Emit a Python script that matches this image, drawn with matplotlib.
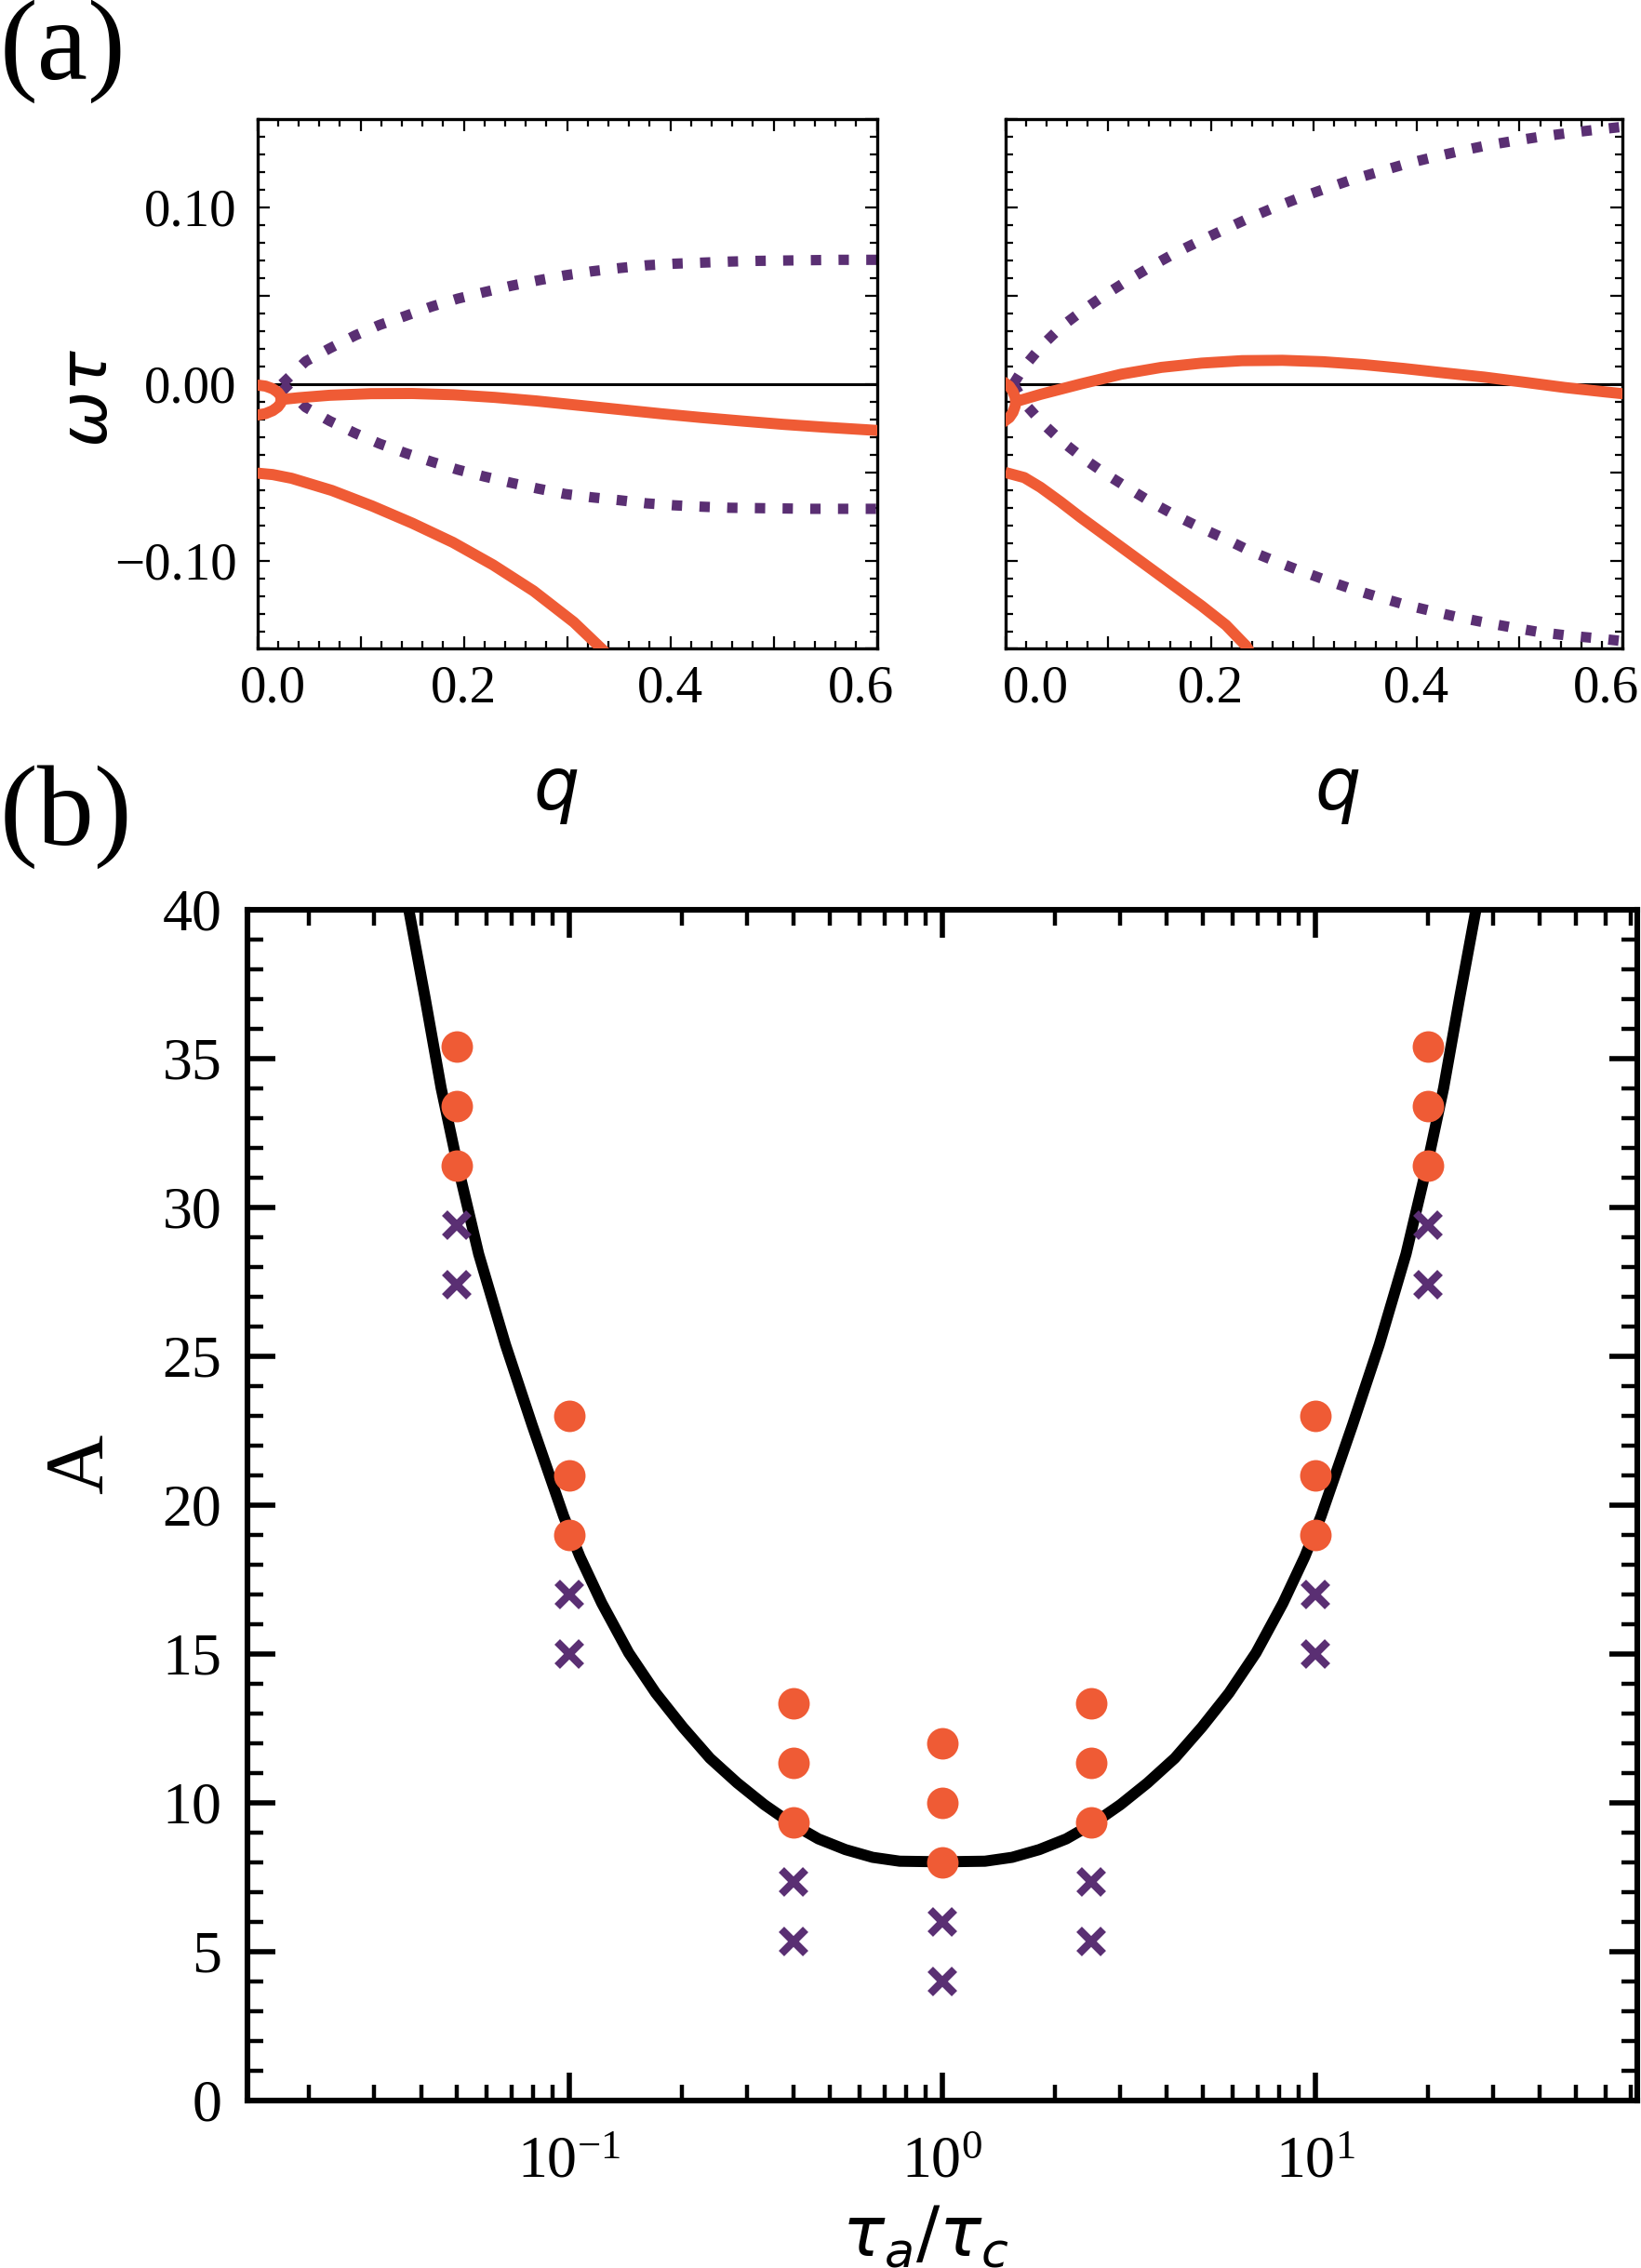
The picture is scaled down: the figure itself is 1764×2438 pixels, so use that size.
import matplotlib
matplotlib.use("Agg")
import matplotlib.pyplot as plt
from matplotlib.ticker import FixedLocator, MultipleLocator, FuncFormatter, LogLocator, NullFormatter

plt.rcParams['font.family'] = ['Liberation Serif', 'DejaVu Serif']
plt.rcParams['mathtext.fontset'] = 'dejavusans'

ORANGE = '#ef5b35'
PURPLE = '#5a2f73'

# ---------------- panel (a) data ----------------
# left panel
la_loop_q = [0.0, 0.008, 0.015, 0.020, 0.0228, 0.0233, 0.0228, 0.020, 0.015, 0.008, 0.0]
la_loop_w = [-0.0006, -0.0012, -0.0027, -0.0047, -0.0068, -0.0088, -0.0108, -0.0130, -0.0151, -0.0168, -0.0176]
la_up_q = [0.0233, 0.04, 0.07, 0.11, 0.15, 0.19, 0.23, 0.27, 0.31, 0.35, 0.39, 0.43, 0.47, 0.51, 0.55, 0.60]
la_up_w = [-0.0088, -0.0078, -0.0064, -0.0055, -0.0054, -0.0061, -0.0076, -0.0096, -0.0120, -0.0144, -0.0168, -0.0190, -0.0210, -0.0229, -0.0245, -0.0263]
la_low_q = [0.0, 0.015, 0.0332, 0.0723, 0.1113, 0.1504, 0.1895, 0.2285, 0.2676, 0.3066, 0.334, 0.338]
la_low_w = [-0.0505, -0.0513, -0.0534, -0.0603, -0.0691, -0.0789, -0.0897, -0.1025, -0.1172, -0.1349, -0.1502, -0.1525]
la_dot_q = [0.024, 0.0469, 0.0703, 0.0949, 0.1184, 0.1434, 0.1688, 0.1941, 0.2199, 0.2461, 0.2723,
            0.2980, 0.3242, 0.3504, 0.3770, 0.4035, 0.4305, 0.4570, 0.4836, 0.5102, 0.5367, 0.5633, 0.5898, 0.600]
la_dot_up_w = [0.0, 0.0128, 0.0202, 0.0275, 0.0334, 0.0385, 0.0438, 0.0483, 0.0520, 0.0556, 0.0587,
               0.0615, 0.0638, 0.0656, 0.0672, 0.0681, 0.0687, 0.0693, 0.0697, 0.0699, 0.0701, 0.0703, 0.0703, 0.0703]
la_dot_lo_w = [0.0, -0.0132, -0.0210, -0.0279, -0.0338, -0.0391, -0.0440, -0.0485, -0.0524, -0.0560, -0.0593,
               -0.0623, -0.0642, -0.0658, -0.0676, -0.0687, -0.0695, -0.0701, -0.0703, -0.0705, -0.0707, -0.0707, -0.0707, -0.0707]

# right panel
ra_loop_q = [0.0, 0.004, 0.0075, 0.0095, 0.0102, 0.0095, 0.0075, 0.004, 0.0]
ra_loop_w = [0.0004, -0.0013, -0.0043, -0.0073, -0.0100, -0.0128, -0.0160, -0.0190, -0.0207]
ra_up_q = [0.0102, 0.0342, 0.0734, 0.1126, 0.1518, 0.1910, 0.2302, 0.2695, 0.3087, 0.3479, 0.3871,
           0.4263, 0.4655, 0.5047, 0.5439, 0.5832, 0.600]
ra_up_w = [-0.0100, -0.0059, 0.0, 0.0055, 0.0094, 0.0118, 0.0132, 0.0134, 0.0126, 0.0110, 0.0088,
           0.0063, 0.0039, 0.0010, -0.0020, -0.0045, -0.0055]
ra_low_q = [0.0, 0.0185, 0.0342, 0.0538, 0.0734, 0.1126, 0.1518, 0.1910, 0.2145, 0.2341, 0.238]
ra_low_w = [-0.0501, -0.0530, -0.0585, -0.0668, -0.0756, -0.0923, -0.1090, -0.1257, -0.1365, -0.1483, -0.1520]
ra_dot_q = [0.008, 0.0185, 0.0361, 0.0549, 0.0761, 0.0981, 0.1204, 0.1432, 0.1663, 0.1902, 0.2149, 0.2385,
            0.2636, 0.2883, 0.3134, 0.3381, 0.3636, 0.3894, 0.4153, 0.4413, 0.4675, 0.4930, 0.5192, 0.5460, 0.5718, 0.5969]
ra_dot_up_w = [0.0, 0.0098, 0.0220, 0.0326, 0.0420, 0.0509, 0.0591, 0.0670, 0.0745, 0.0813, 0.0880, 0.0943,
               0.1004, 0.1059, 0.1110, 0.1159, 0.1202, 0.1246, 0.1283, 0.1318, 0.1350, 0.1375, 0.1399, 0.1420, 0.1438, 0.1454]
ra_dot_lo_w = [0.0, -0.0108, -0.0222, -0.0324, -0.0422, -0.0511, -0.0593, -0.0674, -0.0747, -0.0815, -0.0880, -0.0947,
               -0.1006, -0.1061, -0.1114, -0.1163, -0.1208, -0.1251, -0.1287, -0.1322, -0.1352, -0.1379, -0.1405, -0.1424, -0.1438, -0.1454]

q_tick_labels = ["0.0", "0.2", "0.4", "0.6"]

# ---------------- panel (b) data ----------------
ratio = [0.05, 0.1, 0.4, 1.0, 2.5, 10.0, 20.0]
unstable_A = [[35.4, 33.4, 31.4], [23.0, 21.0, 19.0], [13.33, 11.33, 9.33], [12.0, 10.0, 8.0],
              [13.33, 11.33, 9.33], [23.0, 21.0, 19.0], [35.4, 33.4, 31.4]]
stable_A = [[29.4, 27.4], [17.0, 15.0], [7.33, 5.33], [6.0, 4.0],
            [7.33, 5.33], [17.0, 15.0], [29.4, 27.4]]
curve_r = [0.0352, 0.0372, 0.0410, 0.0453, 0.0500, 0.0571, 0.0674, 0.0794, 0.0965, 0.1067, 0.1221, 0.1442,
           0.1704, 0.2015, 0.2381, 0.2818, 0.3330, 0.3936, 0.4653, 0.5497, 0.6503, 0.7686, 1.0,
           1.301, 1.538, 1.819, 2.149, 2.541, 3.003, 3.549, 4.200, 4.963, 5.869, 6.935, 8.190, 9.372,
           10.36, 12.59, 14.84, 17.51, 20.0, 22.08, 24.39, 26.88, 28.41]
curve_A = [41.6, 39.92, 37.06, 34.01, 31.49, 28.44, 25.39, 22.70, 19.63, 18.27, 16.71, 15.04,
           13.69, 12.54, 11.50, 10.67, 9.94, 9.31, 8.79, 8.43, 8.17, 8.04, 8.02,
           8.04, 8.17, 8.43, 8.79, 9.31, 9.94, 10.67, 11.50, 12.54, 13.69, 15.04, 16.71, 18.27,
           19.63, 22.70, 25.39, 28.44, 31.49, 34.01, 37.06, 39.92, 41.6]

W, H, DPI = 1765, 2438, 200
fig = plt.figure(figsize=(W / DPI, H / DPI), dpi=DPI)


def frac(x0, y0, x1, y1):
    return [x0 / W, 1 - y1 / H, (x1 - x0) / W, (y1 - y0) / H]


axL = fig.add_axes(frac(276.5, 128, 942.5, 697.5))
axR = fig.add_axes(frac(1080.6, 128, 1744, 697.5))

LW_OR = 4.3
LW_DOT = 4.0
XPAD = 6
for ax, d in [(axL, (la_loop_q, la_loop_w, la_up_q, la_up_w, la_low_q, la_low_w, la_dot_q, la_dot_up_w, la_dot_lo_w)),
              (axR, (ra_loop_q, ra_loop_w, ra_up_q, ra_up_w, ra_low_q, ra_low_w, ra_dot_q, ra_dot_up_w, ra_dot_lo_w))]:
    lq, lw_, uq, uw, wq, ww, dq, du, dl = d
    ax.axhline(0, color='black', lw=1.1, zorder=1)
    for yy in (du, dl):
        ax.plot(dq, yy, color=PURPLE, lw=LW_DOT, linestyle=(0, (1.0, 1.68)),
                dash_capstyle='butt', zorder=2)
    ax.plot(lq, lw_, color=ORANGE, lw=LW_OR, zorder=3, solid_joinstyle='round')
    ax.plot(uq, uw, color=ORANGE, lw=LW_OR, zorder=3, solid_capstyle='round')
    ax.plot(wq, ww, color=ORANGE, lw=LW_OR, zorder=3, solid_capstyle='butt')
    ax.set_xlim(0, 0.6)
    ax.set_ylim(-0.15, 0.15)
    ax.xaxis.set_major_locator(FixedLocator([0.0, 0.1, 0.2, 0.3, 0.4, 0.5, 0.6]))
    ax.xaxis.set_minor_locator(MultipleLocator(0.02))
    ax.yaxis.set_major_locator(FixedLocator([-0.15, -0.10, -0.05, 0.0, 0.05, 0.10, 0.15]))
    ax.yaxis.set_minor_locator(MultipleLocator(0.01))
    ax.tick_params(which='both', direction='in', top=True, right=True, width=0.8)
    ax.tick_params(which='major', length=4.7, labelsize=20.5, pad=XPAD)
    ax.tick_params(which='minor', length=2.8)
    ax.tick_params(axis='y', pad=8)
    ax.xaxis.set_major_formatter(FuncFormatter(
        lambda v, p: q_tick_labels[int(round(v * 5))] if (round(v * 10) % 2 == 0 and 0.05 < v < 0.55) else ""))
    for s in ax.spines.values():
        s.set_linewidth(1.2)

# end labels of the q axes sit slightly inside the frame, as in the reference
for ax, x0, x1 in [(axL, 0.0153, 0.5847), (axR, 0.030, 0.5846)]:
    trans, va, ha = ax.get_xaxis_text1_transform(XPAD)
    ax.text(x0, 0, q_tick_labels[0], transform=trans, va=va, ha='center', fontsize=20.5)
    ax.text(x1, 0, q_tick_labels[-1], transform=trans, va=va, ha='center', fontsize=20.5)


def yfmt(v, p):
    if abs(abs(v) - 0.10) < 1e-6 or abs(v) < 1e-6:
        s = f"{abs(v):.2f}"
        return ("\u2212" + s) if v < -1e-6 else s
    return ""


axL.yaxis.set_major_formatter(FuncFormatter(yfmt))
axR.yaxis.set_major_formatter(FuncFormatter(lambda v, p: ""))

fig.text(98 / W, 1 - 428 / H, r'$\omega\tau$', fontsize=26, rotation=90, ha='center', va='center')
fig.text(597 / W, 1 - 852 / H, r'$q$', fontsize=28, ha='center', va='center')
fig.text(1437 / W, 1 - 852 / H, r'$q$', fontsize=28, ha='center', va='center')
fig.text(0.0, 1 - 55 / H, '(a)', fontsize=44, ha='left', va='center')
fig.text(0.0, 1 - 878 / H, '(b)', fontsize=44, ha='left', va='center')

# ---------------- panel (b) ----------------
axB = fig.add_axes(frac(266, 978, 1760, 2258))
axB.plot(curve_r, curve_A, color='black', lw=4.3, zorder=2, solid_joinstyle='round')
for r, ys in zip(ratio, unstable_A):
    axB.plot([r] * len(ys), ys, linestyle='none', marker='o', markersize=12.2,
             color=ORANGE, markeredgewidth=0, zorder=3)
for r, ys in zip(ratio, stable_A):
    axB.plot([r] * len(ys), ys, linestyle='none', marker='x', markersize=9.5,
             color=PURPLE, markeredgewidth=3.0, zorder=3)
axB.set_xscale('log')
axB.set_xlim(0.0137, 73)
axB.set_ylim(0, 40)
axB.yaxis.set_major_locator(MultipleLocator(5))
axB.yaxis.set_minor_locator(MultipleLocator(1))
axB.xaxis.set_major_locator(LogLocator(base=10, numticks=10))
axB.xaxis.set_minor_locator(LogLocator(base=10, subs=range(2, 10), numticks=20))
axB.xaxis.set_minor_formatter(NullFormatter())
axB.tick_params(which='both', direction='in', top=True, right=True)
axB.tick_params(which='major', length=10.8, width=2.0, labelsize=23)
axB.tick_params(which='minor', length=6.0, width=1.6)
axB.tick_params(axis='y', pad=10)
axB.tick_params(axis='x', pad=14)
for s in axB.spines.values():
    s.set_linewidth(2.2)

fig.text(88 / W, 1 - 1574 / H, 'A', fontsize=32, rotation=90, ha='center', va='center')
fig.text(995 / W, 1 - 2405 / H, r'$\tau_a/\tau_c$', fontsize=27, ha='center', va='center')

fig.savefig('out.png', dpi=DPI)
